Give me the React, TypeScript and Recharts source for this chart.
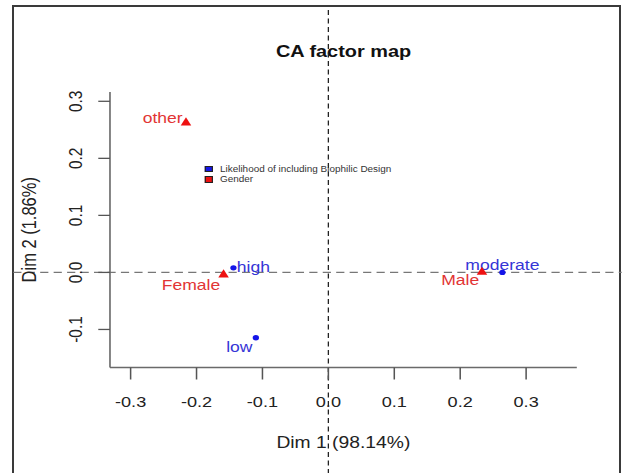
import React from 'react';
import { ScatterChart, Scatter, XAxis, YAxis, ReferenceLine, Legend } from 'recharts';

// ---- data ----
const likelihoodNames = ['high', 'low', 'moderate'];
const likelihoodDim1 = [-0.144, -0.11, 0.264];
const likelihoodDim2 = [0.008, -0.1145, 0.0];

const genderNames = ['Female', 'Male', 'other'];
const genderDim1 = [-0.159, 0.233, -0.216];
const genderDim2 = [-0.0035, 0.001, 0.263];

const xTicks = [-0.3, -0.2, -0.1, 0, 0.1, 0.2, 0.3];
const yTicks = [-0.1, 0, 0.1, 0.2, 0.3];

const seriesNames = ['Likelihood of including Biophilic Design', 'Gender'];
const chartTitle = 'CA factor map';
const xTitle = 'Dim 1 (98.14%)';
const yTitle = 'Dim 2 (1.86%)';

// ---- layout / style ----
const SX = 1.17; // the reference picture is stretched horizontally
const W = 538;
const H = 473;
const xDomain = [-0.3313, 0.3769];
const yDomain = [-0.1667, 0.3163];
// extent of the dashed origin lines (they run across the whole figure)
const vLineExtent = [0.46, -0.36];
const hLineExtent = [-0.478, 0.445];

const FONT = '"Liberation Sans", Arial, Helvetica, sans-serif';
const RED = '#ee1111';
const BLUE = '#1515e8';
const RED_TEXT = '#e23434';
const BLUE_TEXT = '#3535d6';

const LABEL_POS: Record<string, { anchor: string; dx: number; dy: number }> = {
  other: { anchor: 'end', dx: -2.8, dy: 1 },
  Female: { anchor: 'end', dx: -2.8, dy: 15.7 },
  high: { anchor: 'start', dx: 2.9, dy: 4 },
  low: { anchor: 'end', dx: -2.9, dy: 14 },
  moderate: { anchor: 'middle', dx: 0, dy: -2.3 },
  Male: { anchor: 'end', dx: -2.3, dy: 13.3 },
};

const rowData = likelihoodNames.map((n, i) => ({ name: n, x: likelihoodDim1[i], y: likelihoodDim2[i] }));
const colData = genderNames.map((n, i) => ({ name: n, x: genderDim1[i], y: genderDim2[i] }));

const PointLabel = ({ cx, cy, name, color }: any) => {
  const p = LABEL_POS[name] || { anchor: 'start', dx: 3, dy: 4 };
  return (
    <text x={cx + p.dx} y={cy + p.dy} textAnchor={p.anchor} fill={color} fontFamily={FONT} fontSize={15}>
      {name}
    </text>
  );
};

const DotShape = (props: any) => {
  const { cx, cy, payload } = props;
  return (
    <g>
      <circle cx={cx} cy={cy} r={2.7} fill={BLUE} />
      <PointLabel cx={cx} cy={cy} name={payload.name} color={BLUE_TEXT} />
    </g>
  );
};

const TriShape = (props: any) => {
  const { cx, cy, payload } = props;
  const pts = `${cx},${cy - 5.2} ${cx - 4.5},${cy + 3} ${cx + 4.5},${cy + 3}`;
  return (
    <g>
      <polygon points={pts} fill={RED} />
      <PointLabel cx={cx} cy={cy} name={payload.name} color={RED_TEXT} />
    </g>
  );
};

const fmt = (v: number) => v.toFixed(1);

const XTick = ({ x, y, payload }: any) => (
  <text x={x} y={y} dy={28} textAnchor="middle" fill="#222" fontFamily={FONT} fontSize={15.5}>
    {fmt(payload.value)}
  </text>
);

const YTick = ({ x, y, payload }: any) => {
  const bx = x - 13.5;
  return (
    <text
      x={bx}
      y={y}
      textAnchor="middle"
      transform={`rotate(-90, ${bx}, ${y})`}
      fill="#222"
      fontFamily={FONT}
      fontSize={15.5}
    >
      {fmt(payload.value)}
    </text>
  );
};

const LegendContent = (props: any) => {
  const items = [...(props.payload || [])].sort(
    (a: any, b: any) => seriesNames.indexOf(a.value) - seriesNames.indexOf(b.value)
  );
  return (
    <div style={{ fontFamily: FONT, fontSize: 8.5, color: '#333', lineHeight: '10.7px' }}>
      {items.map((e: any) => (
        <div key={e.value} style={{ display: 'flex', alignItems: 'center', whiteSpace: 'nowrap' }}>
          <span
            style={{
              display: 'inline-block',
              width: 5,
              height: 4.5,
              background: e.color,
              border: '0.8px solid #222',
              marginRight: 6,
            }}
          />
          {e.value}
        </div>
      ))}
    </div>
  );
};

export default function App() {
  return (
    <div style={{ position: 'absolute', left: 0, top: 0, width: 629, height: 473, overflow: 'hidden', background: '#fff' }}>
      <div
        style={{
          position: 'absolute',
          left: 12.3,
          top: 5,
          width: 609,
          height: 540,
          border: '2px solid #3a3a3a',
          boxSizing: 'border-box',
        }}
      />
      <div style={{ position: 'absolute', left: 0, top: 0, transform: `scaleX(${SX})`, transformOrigin: '0 0' }}>
        <ScatterChart width={W} height={H} margin={{ top: 92, right: 45, bottom: 65.5, left: 0 }}>
          <XAxis
            dataKey="x"
            type="number"
            domain={xDomain}
            allowDataOverflow
            ticks={xTicks}
            interval={0}
            height={40}
            tickSize={12}
            tickMargin={0}
            tick={XTick}
            axisLine={{ stroke: '#6a6a6a', strokeWidth: 1.4 }}
            tickLine={{ stroke: '#555', strokeWidth: 1.3 }}
            label={{
              content: ({ viewBox }: any) => (
                <text
                  x={viewBox.x + viewBox.width / 2}
                  y={viewBox.y + 80.5}
                  textAnchor="middle"
                  fill="#222"
                  fontFamily={FONT}
                  fontSize={16.5}
                >
                  {xTitle}
                </text>
              ),
            }}
          />
          <YAxis
            dataKey="y"
            type="number"
            domain={yDomain}
            allowDataOverflow
            ticks={yTicks}
            interval={0}
            width={94}
            tickSize={10}
            tickMargin={0}
            tick={YTick}
            axisLine={{ stroke: '#6a6a6a', strokeWidth: 1.4 }}
            tickLine={{ stroke: '#555', strokeWidth: 1.3 }}
            label={{
              content: ({ viewBox }: any) => {
                const cx = 31;
                const cy = viewBox.y + viewBox.height / 2;
                return (
                  <text
                    x={cx}
                    y={cy}
                    textAnchor="middle"
                    transform={`rotate(-90, ${cx}, ${cy})`}
                    fill="#222"
                    fontFamily={FONT}
                    fontSize={16.5}
                  >
                    {yTitle}
                  </text>
                );
              },
            }}
          />
          <XAxis
            xAxisId="top"
            orientation="top"
            type="number"
            domain={xDomain}
            allowDataOverflow
            height={0}
            tick={false}
            tickLine={false}
            axisLine={{ stroke: '#6a6a6a', strokeWidth: 1.4 }}
          />
          <YAxis
            yAxisId="right"
            orientation="right"
            type="number"
            domain={yDomain}
            allowDataOverflow
            width={0}
            tick={false}
            tickLine={false}
            axisLine={{ stroke: '#6a6a6a', strokeWidth: 1.4 }}
          />
          <ReferenceLine
            segment={[
              { x: hLineExtent[0], y: 0 },
              { x: hLineExtent[1], y: 0 },
            ]}
            ifOverflow="visible"
            stroke="#777"
            strokeWidth={1.4}
            strokeDasharray="7 4.5"
          />
          <ReferenceLine
            segment={[
              { x: 0, y: vLineExtent[0] },
              { x: 0, y: vLineExtent[1] },
            ]}
            ifOverflow="visible"
            stroke="#222"
            strokeWidth={1.1}
            strokeDasharray="5 3.5"
          />
          <Legend
            layout="vertical"
            align="center"
            verticalAlign="middle"
            content={LegendContent}
            wrapperStyle={{ position: 'absolute', left: 175, top: 163.6, width: 'auto', height: 'auto' }}
          />
          <Scatter name={seriesNames[0]} data={rowData} fill={BLUE} shape={DotShape} isAnimationActive={false} />
          <Scatter name={seriesNames[1]} data={colData} fill={RED} shape={TriShape} isAnimationActive={false} />
          <text x={293.6} y={57.3} textAnchor="middle" fontFamily={FONT} fontSize={17} fontWeight="bold" fill="#111">
            {chartTitle}
          </text>
        </ScatterChart>
      </div>
    </div>
  );
}
